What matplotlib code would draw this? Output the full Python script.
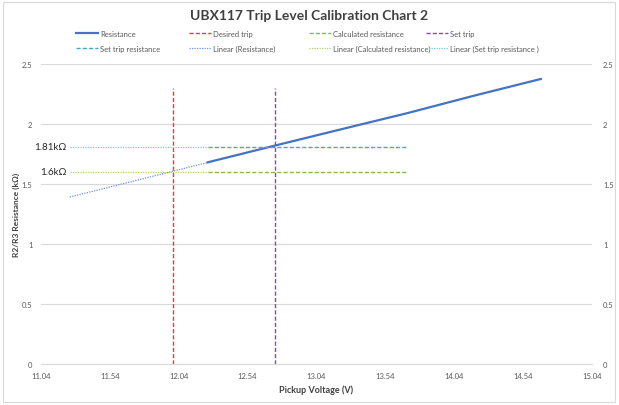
import numpy as np
import matplotlib.pyplot as plt
from matplotlib.patches import Rectangle

plt.rcParams['font.family'] = ['Lato', 'DejaVu Sans']

# datos
volt = [12.25, 12.74, 13.2, 13.7, 14.2, 14.67]
res = [1.68, 1.82, 1.95, 2.09, 2.24, 2.375]
desired_trip = 12.0
set_trip = 12.74
calc_res = 1.6
set_res = 1.81
v_line_top = 2.3
flat_x = [12.25, 13.70]
trend_start = 11.25
xticks = [11.04, 11.54, 12.04, 12.54, 13.04, 13.54, 14.04, 14.54, 15.04]
yticks = [0, 0.5, 1, 1.5, 2, 2.5]

W, H = 619, 406
fig = plt.figure(figsize=(W / 100, H / 100), dpi=100)
ax = fig.add_axes([0.066, 0.101, 0.890, 0.739])
fig.patches.append(Rectangle((0.005, 0.007), 0.989, 0.986, transform=fig.transFigure,
                             fill=False, edgecolor='#d9d9d9', lw=0.8))

# linea de tendencia (ajuste lineal como Excel)
m, b = np.polyfit(volt, res, 1)
tx = np.array([trend_start, volt[0]])

dash = (0, (3, 1.5))
dot = (0, (1, 1))
h_res, = ax.plot(volt, res, color='#4472C4', lw=1.6, label='Resistance')
h_des, = ax.plot([desired_trip, desired_trip], [0, v_line_top], color='#E0403A', lw=1, ls=dash, label='Desired trip')
h_calc, = ax.plot(flat_x, [calc_res, calc_res], color='#8DB843', lw=1, ls=dash, label='Calculated resistance')
h_set, = ax.plot([set_trip, set_trip], [0, v_line_top], color='#7E4FB3', lw=1, ls=dash, label='Set trip')
h_setr, = ax.plot(flat_x, [set_res, set_res], color='#4BA6C6', lw=1, ls=dash, label='Set trip resistance')
h_lres, = ax.plot(tx, m * tx + b, color='#6F93D6', lw=0.9, ls=dot, label='Linear (Resistance)')
h_lcalc, = ax.plot([trend_start, flat_x[0]], [calc_res, calc_res], color='#B3D46B', lw=0.9, ls=dot, label='Linear (Calculated resistance)')
h_lset, = ax.plot([trend_start, flat_x[0]], [set_res, set_res], color='#7FC2DA', lw=0.9, ls=dot, label='Linear (Set trip resistance )')

ax.text(11.23, set_res, '1.81k\u03a9', ha='right', va='center', fontsize=7, color='#262626')
ax.text(11.23, calc_res, '1.6k\u03a9', ha='right', va='center', fontsize=7, color='#262626')

ax.set_xlim(11.04, 15.04)
ax.set_ylim(0, 2.5)
ax.set_xticks(xticks)
ax.set_xticklabels([f'{t:.2f}' for t in xticks])
ax.set_yticks(yticks)
ax.set_yticklabels([f'{t:g}' for t in yticks])
ax.yaxis.grid(True, color='#d9d9d9', lw=0.8)
ax.set_axisbelow(True)
for s in ax.spines.values():
    s.set_visible(False)
ax.spines['bottom'].set_visible(True)
ax.spines['bottom'].set_color('#d9d9d9')
ax.tick_params(length=0, labelsize=5.5, labelcolor='#595959', pad=6)

ax2 = ax.twinx()
ax2.set_ylim(0, 2.5)
ax2.set_yticks(yticks)
ax2.set_yticklabels([f'{t:g}' for t in yticks])
ax2.tick_params(length=0, labelsize=5.5, labelcolor='#595959', pad=8)
for s in ax2.spines.values():
    s.set_visible(False)

ax.set_xlabel('Pickup Voltage (V)', fontsize=6.5, color='#404040', fontweight='bold')
ax.set_ylabel('R2/R3 Resistance (k\u03a9)', fontsize=6, color='#404040', fontweight='bold')
ax.yaxis.set_label_coords(-0.038, 0.5)

fig.text(0.5, 1 - 16 / H, 'UBX117 Trip Level Calibration Chart 2', ha='center', va='center',
         fontsize=10, fontweight='bold', color='#404040')

# leyenda: una columna por llamada, como Excel
cols = [[h_res, h_setr], [h_des, h_lres], [h_calc, h_lcalc], [h_set, h_lset]]
col_x = [76, 189, 309, 426]
for hs, x in zip(cols, col_x):
    fig.legend(handles=hs, labels=[h.get_label() for h in hs], loc='upper left',
               bbox_to_anchor=(x / W, 1 - 31 / H), frameon=False, fontsize=5.5,
               labelcolor='#595959', handlelength=2.9, handletextpad=0.3,
               borderaxespad=0, borderpad=0, labelspacing=1.0)

plt.savefig('out.png', dpi=100)
